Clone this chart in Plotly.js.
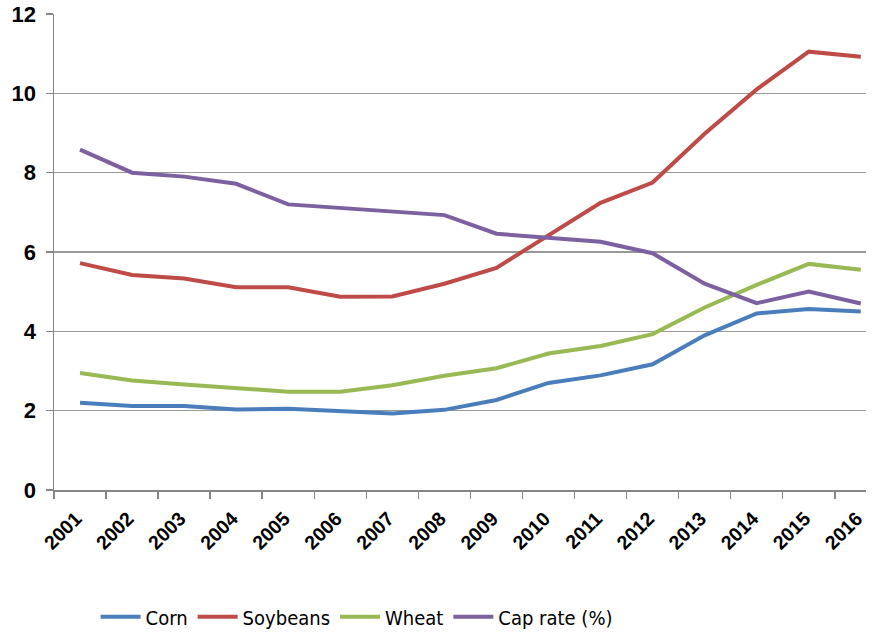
<!DOCTYPE html>
<html>
<head>
<meta charset="utf-8">
<script src="https://cdn.plot.ly/plotly-3.0.1.min.js"></script>
<style>html,body{margin:0;padding:0;background:#fff;}#chart{width:877px;height:632px;}</style>
</head>
<body>
<div id="chart"></div>
<script>
const years = ["2001","2002","2003","2004","2005","2006","2007","2008","2009","2010","2011","2012","2013","2014","2015","2016"];
const corn = [2.2, 2.12, 2.12, 2.03, 2.05, 2.0, 1.93, 2.02, 2.27, 2.7, 2.89, 3.17, 3.9, 4.45, 4.56, 4.5];
const soybeans = [5.72, 5.42, 5.33, 5.11, 5.11, 4.87, 4.88, 5.2, 5.6, 6.41, 7.24, 7.75, 8.98, 10.1, 11.05, 10.92];
const wheat = [2.95, 2.76, 2.66, 2.57, 2.48, 2.48, 2.64, 2.88, 3.07, 3.44, 3.63, 3.93, 4.6, 5.17, 5.7, 5.55];
const capRate = [8.58, 8.0, 7.9, 7.72, 7.2, 7.11, 7.03, 6.93, 6.46, 6.37, 6.26, 5.97, 5.2, 4.71, 5.0, 4.7];

const names = ["Corn", "Soybeans", "Wheat", "Cap rate (%)"];
const colors = ["#4A7EBB", "#BE4B48", "#98B954", "#7D60A0"];
const series = [corn, soybeans, wheat, capRate];

const traces = series.map((vals, i) => ({
  type: "scatter",
  mode: "lines",
  x: years,
  y: vals,
  name: names[i],
  line: {color: colors[i], width: 4},
  hoverinfo: "x+y+name"
}));

const layout = {
  width: 877,
  height: 632,
  margin: {l: 54, r: 11, t: 14, b: 142, autoexpand: false},
  paper_bgcolor: "#ffffff",
  plot_bgcolor: "#ffffff",
  font: {family: "Liberation Sans, Arial, sans-serif", color: "#000000"},
  showlegend: true,
  legend: {
    orientation: "h",
    xref: "container", yref: "container",
    x: 0.109, xanchor: "left",
    y: 0.024, yanchor: "middle",
    font: {family: "DejaVu Sans Condensed, Liberation Sans, Arial, sans-serif", size: 20, color: "#000"},
    itemwidth: 40,
    tracegroupgap: 0
  },
  xaxis: {
    type: "category",
    range: [-0.5, 15.1],
    tickson: "boundaries",
    ticks: "outside",
    ticklen: 7,
    tickcolor: "#868686",
    tickwidth: 1.5,
    showline: true,
    linecolor: "#868686",
    linewidth: 1.5,
    showgrid: false,
    tickangle: -45,
    ticklabelshift: -4,
    ticklabelstandoff: 8,
    automargin: false,
    tickfont: {family: "Liberation Sans, Arial, sans-serif", size: 19.5, color: "#000", weight: "bold"},
    fixedrange: true
  },
  yaxis: {
    range: [0, 12],
    dtick: 2,
    tick0: 0,
    ticks: "outside",
    ticklen: 7,
    tickcolor: "#868686",
    tickwidth: 1.5,
    showline: true,
    linecolor: "#868686",
    linewidth: 1.5,
    showgrid: true,
    gridcolor: "#999999",
    gridwidth: 1.5,
    zeroline: false,
    automargin: false,
    ticklabelstandoff: 5,
    tickfont: {family: "Liberation Sans, Arial, sans-serif", size: 22, color: "#000", weight: "bold"},
    fixedrange: true
  }
};

Plotly.newPlot("chart", traces, layout, {displayModeBar: false, staticPlot: true});
</script>
</body>
</html>
